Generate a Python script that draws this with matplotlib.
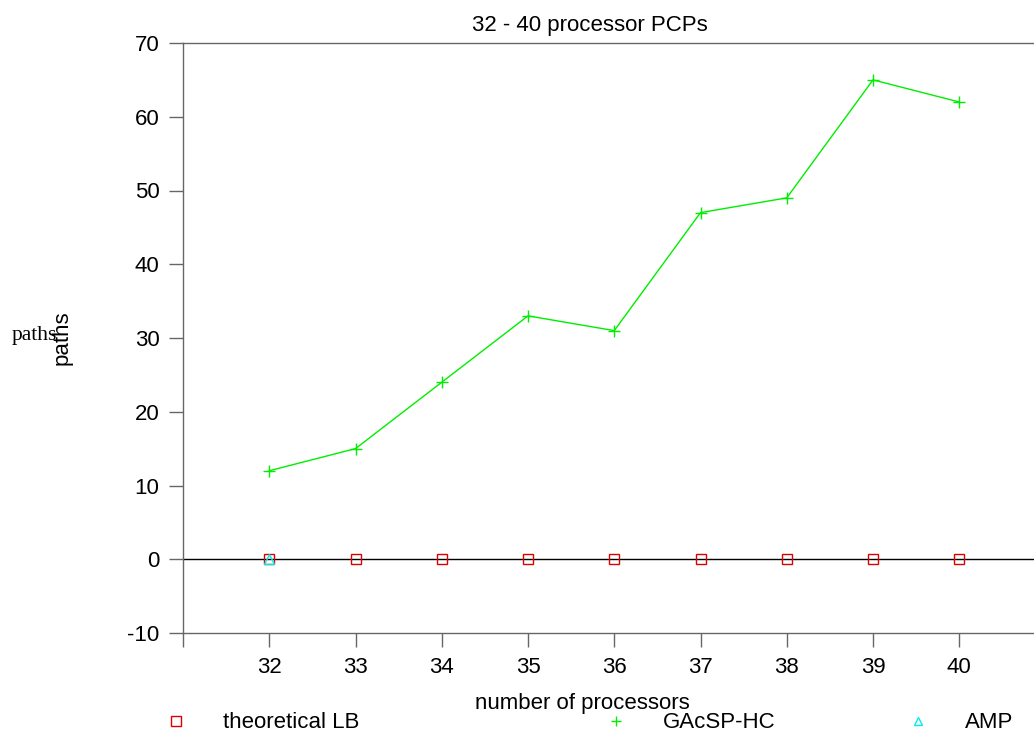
import matplotlib
matplotlib.use('Agg')
import matplotlib.pyplot as plt
from matplotlib.lines import Line2D

plt.rcParams['font.family'] = ['Liberation Sans', 'DejaVu Sans']
plt.rcParams['axes.unicode_minus'] = False

# datos
processors = [32, 33, 34, 35, 36, 37, 38, 39, 40]
theoretical_lb = [0, 0, 0, 0, 0, 0, 0, 0, 0]
gacsp_hc = [12, 15, 24, 33, 31, 47, 49, 65, 62]
amp_x = [32]
amp = [0]
xtick_labels = ['', '32', '33', '34', '35', '36', '37', '38', '39', '40']

fig = plt.figure(figsize=(10.34, 7.35), dpi=100)
ax = fig.add_axes([183 / 1034, 1 - 633 / 735, 862.5 / 1034, 590 / 735])

ax.axhline(0, color='black', lw=1.0, zorder=1)
ax.plot(processors, gacsp_hc, color='#00ee00', lw=1.0, marker='+', ms=9, mew=1.0, zorder=3)
ax.plot(processors, theoretical_lb, ls='none', marker='s', ms=7, mfc='none', mec='#dd0000', mew=1.0, zorder=3)
ax.plot(amp_x, amp, ls='none', marker='^', ms=7, mfc='none', mec='#00eeee', mew=1.0, zorder=4)

ax.set_xlim(31, 41)
ax.set_ylim(-10, 70)
ax.set_xticks(range(31, 41))
ax.set_xticklabels(xtick_labels)
ax.set_yticks(range(-10, 71, 10))

for s in ax.spines.values():
    s.set_color('#666666')
    s.set_linewidth(1.0)
ax.tick_params(direction='out', length=10, width=1.0, color='#666666', labelsize=16, pad=7)

fig.text(590 / 1034, 1 - 25 / 735, '32 - 40 processor PCPs', ha='center', va='center', fontsize=16)
fig.text(582 / 1034, 1 - 704 / 735, 'number of processors', ha='center', va='center', fontsize=16)
fig.text(62 / 1034, 1 - 338 / 735, 'paths', ha='center', va='center', rotation=90, fontsize=16)
fig.text(12 / 1034, 1 - 335 / 735, 'paths', ha='left', va='center', fontsize=15.5, family='Liberation Serif')

# leyenda en la parte de abajo
entries = [
    (Line2D([], [], ls='none', marker='s', ms=7, mfc='none', mec='#dd0000'), 'theoretical LB', 176),
    (Line2D([], [], ls='none', marker='+', ms=7, color='#00ee00'), 'GAcSP-HC', 616),
    (Line2D([], [], ls='none', marker='^', ms=6, mfc='none', mec='#00eeee'), 'AMP', 918),
]
for h, label, xpos in entries:
    fig.legend(handles=[h], labels=[label], loc='center left',
               bbox_to_anchor=((xpos - 11) / 1034, 1 - 723 / 735),
               frameon=False, fontsize=16, handlelength=1.0, handletextpad=1.6,
               borderpad=0, borderaxespad=0)

fig.savefig('out.png', dpi=100)
